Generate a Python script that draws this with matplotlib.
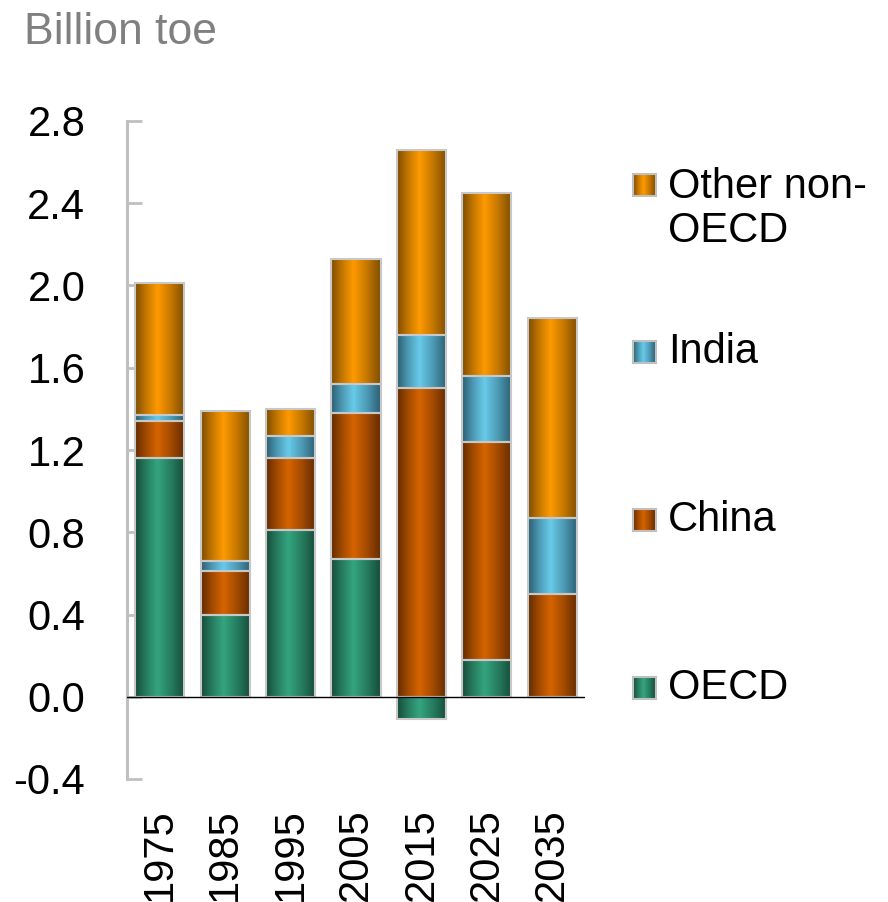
import numpy as np
import matplotlib
matplotlib.use("Agg")
import matplotlib.pyplot as plt
from matplotlib.colors import LinearSegmentedColormap

plt.rcParams['font.family'] = ['Liberation Sans', 'DejaVu Sans']
plt.rcParams['axes.unicode_minus'] = False

years = ['1975', '1985', '1995', '2005', '2015', '2025', '2035']
oecd = [1.16, 0.40, 0.81, 0.67, -0.11, 0.18, 0.0]
china = [0.18, 0.21, 0.35, 0.71, 1.50, 1.06, 0.50]
india = [0.03, 0.05, 0.11, 0.14, 0.26, 0.32, 0.37]
other = [0.64, 0.73, 0.13, 0.61, 0.90, 0.89, 0.97]

series = ['OECD', 'China', 'India', 'Other non-\nOECD']
# (edge shade, centre shade) for the cylinder look
shades = [('#164c39', '#34a57f'),
          ('#652c00', '#d66400'),
          ('#2c5f73', '#68cbea'),
          ('#7f4e00', '#ff9a00')]


def make_cmap(dark, bright):
    mid = tuple((np.array(matplotlib.colors.to_rgb(dark)) +
                 np.array(matplotlib.colors.to_rgb(bright))) / 2)
    return LinearSegmentedColormap.from_list(
        'g', [(0, dark), (0.2, mid), (0.45, bright), (0.75, mid), (1, dark)])


grad = np.linspace(0, 1, 64).reshape(1, -1)

W, H = 888, 902
fig = plt.figure(figsize=(W / 100, H / 100), dpi=100)
ax = fig.add_axes([127 / W, (H - 779) / H, (585 - 127) / W, (779 - 121) / H])

x = np.arange(len(years))
data = [oecd, china, india, other]
pos_bottom = np.zeros(len(years))
for i, vals in enumerate(data):
    vals = np.array(vals)
    bottoms = pos_bottom.copy()
    bars = ax.bar(x, vals, 0.75, bottom=bottoms, color='none',
                  edgecolor='#c8c8c8', linewidth=1.5, zorder=3)
    pos_bottom = bottoms + np.where(vals > 0, vals, 0)
    cmap = make_cmap(*shades[i])
    for r in bars:
        if r.get_height() == 0:
            continue
        x0, y0 = r.get_x(), r.get_y()
        x1, y1 = x0 + r.get_width(), y0 + r.get_height()
        im = ax.imshow(grad, cmap=cmap, extent=[x0, x1, min(y0, y1), max(y0, y1)],
                       aspect='auto', zorder=2, interpolation='bicubic')
        im.set_clip_path(r)

ax.set_xlim(-0.5, 6.5)
ax.set_ylim(-0.4, 2.8)
ax.axhline(0, color='black', lw=1, zorder=4)

for s in ['top', 'right', 'bottom']:
    ax.spines[s].set_visible(False)
ax.spines['left'].set_color('#c0c0c0')
ax.spines['left'].set_linewidth(2.2)

ax.set_yticks(np.arange(-0.4, 2.81, 0.4))
ax.set_yticklabels(['%.1f' % v for v in np.arange(-0.4, 2.81, 0.4)])
ax.tick_params(axis='y', direction='in', length=11, width=2, color='#c0c0c0',
               labelsize=30, pad=30)
ax.set_xticks(x)
ax.set_xticklabels(years, rotation=90)
ax.tick_params(axis='x', length=0, labelsize=30, pad=21)

fig.text(24 / W, 1 - 33 / H, 'Billion toe', color='#808080', fontsize=32,
         ha='left', va='center')

# legend, top to bottom
leg_y = [688, 520, 352, 185]
for i in range(4):
    cy = leg_y[i]
    lax = fig.add_axes([633 / W, 1 - (cy + 11) / H, 23 / W, 22 / H])
    lax.imshow(grad, cmap=make_cmap(*shades[i]), aspect='auto', interpolation='bicubic')
    lax.set_xticks([])
    lax.set_yticks([])
    for sp in lax.spines.values():
        sp.set_color('#c0c0c0')
        sp.set_linewidth(1.5)
    ty = cy if i < 3 else (185 + 233) / 2
    fig.text(668 / W, 1 - ty / H, series[i], fontsize=30, ha='left', va='center',
             linespacing=1.15)

fig.savefig('out.png', dpi=100)
